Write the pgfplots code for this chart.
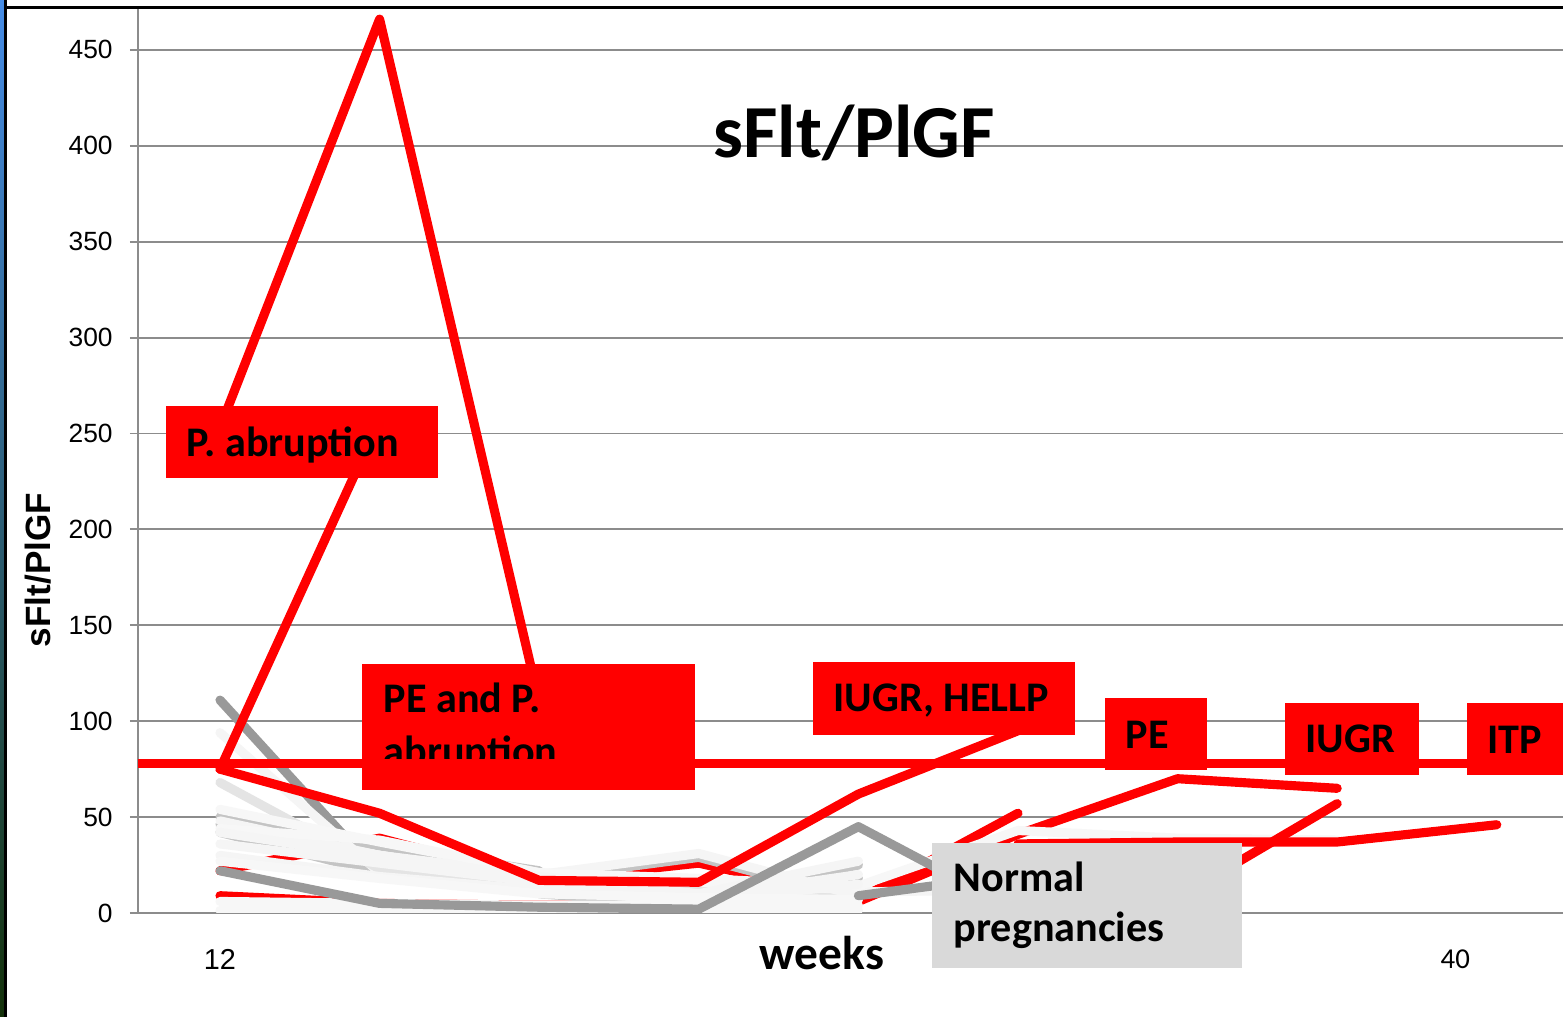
\documentclass[border=0pt]{standalone}
\usepackage{pgfplots}
\pgfplotsset{compat=1.18}
\usepackage{fontspec}
\setmainfont{Carlito}
\newfontfamily\arial{Liberation Sans}
\definecolor{gridgray}{HTML}{8C8C8C}
\definecolor{dgray}{HTML}{999999}
\definecolor{boxgray}{HTML}{D9D9D9}
\definecolor{wA}{HTML}{F5F5F5}
\definecolor{wB}{HTML}{E4E4E4}
\definecolor{wC}{HTML}{F7F7F7}
\definecolor{wS}{HTML}{C4C4C4}
\begin{document}
\begin{tikzpicture}[x=1cm,y=1cm]
\useasboundingbox (0,0) rectangle (15.63,10.17);
\fill[white] (0,0) rectangle (15.63,10.17);
\shade[top color={rgb,255:red,70;green,140;blue,230}, middle color={rgb,255:red,110;green,170;blue,40}, bottom color={rgb,255:red,20;green,50;blue,10}] (0,0) rectangle (0.045,10.17);
\begin{axis}[
  at={(1.38cm,1.04cm)}, anchor=south west, scale only axis,
  width=14.25cm, height=9.05cm,
  xmin=-0.5138, xmax=8.4148, ymin=0, ymax=471.85,
  axis lines*=left,
  axis line style={draw=gridgray, line width=0.6pt},
  y axis line style={line width=0.85pt},
  ytick={0,50,...,450},
  ymajorgrids, grid style={draw=gridgray, line width=0.55pt},
  tick align=outside,
  major tick length=0.08cm,
  ytick style={draw=gridgray, line width=0.55pt},
  yticklabel style={font=\arial\fontsize{7.5}{9}\selectfont, xshift=-0.05cm},
  xtick={0,7.74}, xticklabels={{\arial 12},{40}},
  xtick style={draw=none},
  xticklabel style={anchor=center, yshift=-0.38cm, font=\fontsize{8.2}{9}\selectfont},
  /pgf/number format/assume math mode=true,
  every axis plot/.append style={line width=2.6pt, line cap=round, line join=round, mark=none},
]
% low red series partly hidden
\addplot[red] coordinates {(0,9)(1,5)(2,4)(3,4)(4,6)(5,41)(6,70)(7,65)};
\addplot[red] coordinates {(0,22)(1,39)(2,17)(3,26)(4,7)(5,52)};
% greys under whites
\addplot[dgray] coordinates {(0,111)(1,20)(2,17)(3,15)};
% shadows
\addplot[wS] coordinates {(0,50)(1,35)(2,22)};
\addplot[wS] coordinates {(0,42)(1,21)(2,14)};
\addplot[wS] coordinates {(0,46)(1,28)(2,18)(3,29)(4,7)};
\addplot[wS] coordinates {(2,17)(3,8)(4,25)};
\addplot[wS] coordinates {(2,14)(3,6)(4,18)};
\addplot[wS] coordinates {(2,10)(3,4)(4,13)};
% normal pregnancies
\addplot[wA] coordinates {(0,94)(1,21)(2,14)(3,12)(4,11)(5,12)};
\addplot[wB] coordinates {(0,68)(1,23)(2,15)(3,12)(4,10)};
\addplot[wC] coordinates {(0,54)(1,37)(2,21)(3,16)(4,12)};
\addplot[wA] coordinates {(0,48)(1,30)(2,20)(3,31)(4,9)};
\addplot[wC] coordinates {(0,44)(1,38)(2,21)(3,18)(4,14)(5,43)(6,39)(7,38)};
\addplot[wA] coordinates {(0,42)(1,29)(2,19)(3,10)(4,27)};
\addplot[wA] coordinates {(0,36)(1,26)(2,16)(3,8)(4,20)};
\addplot[wA] coordinates {(0,30)(1,19)(2,12)(3,6)(4,15)};
\addplot[wC] coordinates {(0,27)(1,18)(2,10)(3,8)(4,7)};
\addplot[wC] coordinates {(0,6)(1,5)(2,4)(3,4)(4,4)};
\addplot[wC] coordinates {(0,1.5)(1,1.5)(2,1.5)(3,1.5)(4,1.5)};
% dark grey
\addplot[dgray] coordinates {(0,22)(1,5)(2,3)(3,2)(4,45)(5,1)};
\addplot[dgray] coordinates {(4,9)(5,20)};
% main red series
\addplot[red] coordinates {(0,75)(1,52)(2,17)(3,16)(4,62)(5,95)};
\addplot[red] coordinates {(0,253)(1,466)(2,110)};
\addplot[red] coordinates {(0,75)(1,257)};
\addplot[red] coordinates {(5,12)(6,8)(7,57)};
\addplot[red] coordinates {(5,36)(6,37)(7,37)(8,46)};
% threshold
\addplot[red, line cap=butt] coordinates {(-0.5138,78)(8.4148,78)};
\end{axis}
% frame lines
\draw[black, line width=0.6pt] (0.055,0) -- (0.055,10.17);
\draw[black, line width=0.85pt] (0.05,10.095) -- (15.63,10.095);
% title and labels
\node[anchor=base, font=\bfseries\fontsize{21.3}{24}\selectfont] at (8.54,8.59) {sFlt/PlGF};
\node[anchor=base, font=\bfseries\fontsize{13.5}{15}\selectfont] at (8.22,0.47) {weeks};
\node[rotate=90, font=\arial\bfseries\fontsize{10}{12}\selectfont] at (0.38,4.47) {sFlt/PlGF};
% annotation boxes
\fill[red] (1.66,6.11) rectangle (4.38,5.39);
\node[anchor=base west, inner sep=0pt, font=\bfseries\fontsize{12}{14}\selectfont] at (1.86,5.60) {P. abruption};
\fill[red] (3.62,3.53) rectangle (6.95,2.27);
\node[anchor=base west, inner sep=0pt, font=\bfseries\fontsize{12}{14}\selectfont] at (3.83,3.04) {PE and P.};
\node[anchor=base west, inner sep=0pt, font=\bfseries\fontsize{12}{14}\selectfont] at (3.83,2.51) {abruption};
\fill[red] (3.62,2.58) rectangle (6.95,2.27);
\fill[red] (8.13,3.55) rectangle (10.75,2.82);
\node[anchor=base west, inner sep=0pt, font=\bfseries\fontsize{12}{14}\selectfont] at (8.33,3.05) {IUGR, HELLP};
\fill[red] (11.05,3.19) rectangle (12.07,2.47);
\node[anchor=base west, inner sep=0pt, font=\bfseries\fontsize{12}{14}\selectfont] at (11.25,2.68) {PE};
\fill[red] (12.85,3.14) rectangle (14.19,2.42);
\node[anchor=base west, inner sep=0pt, font=\bfseries\fontsize{12}{14}\selectfont] at (13.05,2.64) {IUGR};
\fill[red] (14.67,3.14) rectangle (15.63,2.42);
\node[anchor=base west, inner sep=0pt, font=\bfseries\fontsize{12}{14}\selectfont] at (14.87,2.63) {ITP};
\fill[boxgray] (9.32,1.74) rectangle (12.42,0.49);
\node[anchor=base west, inner sep=0pt, font=\bfseries\fontsize{12}{14}\selectfont] at (9.53,1.25) {Normal};
\node[anchor=base west, inner sep=0pt, font=\bfseries\fontsize{12}{14}\selectfont] at (9.53,0.75) {pregnancies};
\end{tikzpicture}
\end{document}
